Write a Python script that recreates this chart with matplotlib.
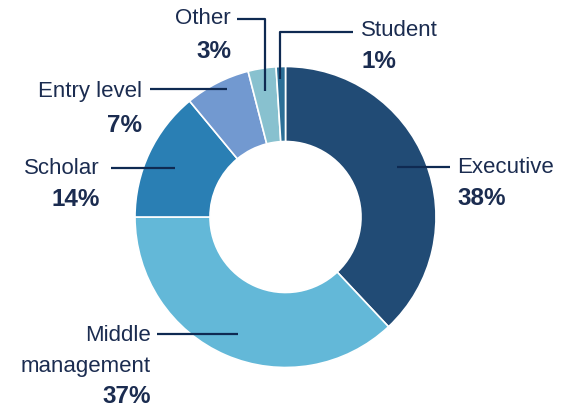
import matplotlib.pyplot as plt

plt.rcParams['font.family'] = ['Liberation Sans', 'DejaVu Sans']

# Share of respondents by job level
categories = ["Executive", "Middle\nmanagement", "Scholar", "Entry level", "Other", "Student"]
shares = [38, 37, 14, 7, 3, 1]
colors = ["#214b75", "#63b8d8", "#2a7fb4", "#7299d0", "#88c1cf", "#2c6f97"]

text_col = "#1b2c50"
line_col = "#0f2a52"

fig = plt.figure(figsize=(5.71, 4.10), dpi=100)
ax = fig.add_axes([0, 0, 1, 1])

H = 410
cx, cy, r = 285.5, H - 218, 150.5
ax.pie(shares, colors=colors, startangle=90, counterclock=False,
       center=(cx, cy), radius=r, frame=True,
       wedgeprops=dict(width=75, edgecolor='white', linewidth=1.2))
ax.set_xlim(0, 571)
ax.set_ylim(0, 410)
ax.set_aspect('equal')
ax.axis('off')

# label layout: (text x, name y, pct y, align, leader polyline in pixel coords)
layout = {
    "Executive": (457, 168, 199, 'left', [(450, 168), (397, 168)]),
    "Middle\nmanagement": (151, 351, 397, 'right', [(157, 335), (238, 335)]),
    "Scholar": (100, 169, 200, 'right', [(111, 169), (175, 169)]),
    "Entry level": (142, 91, 125, 'right', [(150, 90), (227, 90)]),
    "Other": (231, 19, 51, 'right', [(237, 20), (265, 20), (265, 92)]),
    "Student": (361, 31, 62, 'left', [(353, 33), (280, 33), (280, 80)]),
}

for name, val in zip(categories, shares):
    x, y1, y2, ha, pts = layout[name]
    ax.text(x, H - y1, name, ha=ha, va='center', fontsize=16,
            color=text_col, linespacing=1.6, multialignment='right')
    ax.text(x, H - y2, f"{val}%", ha=ha, va='center', fontsize=17.5,
            color=text_col, fontweight='bold')
    xs = [p[0] for p in pts]
    ys = [H - p[1] for p in pts]
    ax.plot(xs, ys, color=line_col, linewidth=1.6, solid_capstyle='butt')

fig.savefig('out.png', dpi=100)
